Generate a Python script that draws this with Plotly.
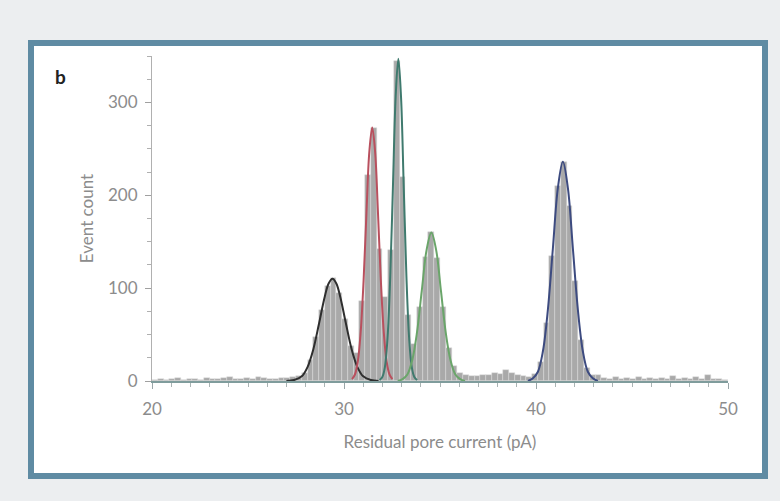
import numpy as np
import plotly.graph_objects as go

# ---------------- data ----------------
bin_start = 20.0
bin_width = 0.3
hist_counts = [
    1, 2, 1, 2, 3, 1, 2, 2, 1, 3, 2, 2, 3, 4, 2, 2, 3, 2, 4, 3, 2, 2, 3,
    3, 4, 5, 9, 23, 47, 77, 102, 111, 95, 67, 38, 30, 86, 222, 272, 142,
    90, 141, 345, 220, 71, 40, 80, 134, 160, 132, 80, 36, 16, 9, 7, 5,
    5, 6, 6, 9, 8, 12, 9, 7, 5, 4, 8, 21, 62, 135, 210, 236, 188, 108,
    44, 14, 6, 7, 3, 2, 4, 2, 3, 2, 4, 2, 3, 2, 3, 2, 5, 2, 3, 2, 4, 2,
    6, 2, 2, 1,
]
bin_centers = bin_start + bin_width / 2 + bin_width * np.arange(len(hist_counts))

fit_black_x = [27.0, 27.4, 27.8, 28.1, 28.4, 28.7, 29.0, 29.2, 29.4, 29.6, 29.8, 30.1, 30.4, 30.7, 31.0, 31.4, 31.8]
fit_black_y = [0, 1, 5, 15, 34, 62, 91, 105, 110, 105, 91, 62, 34, 15, 5, 1, 0]

fit_red_x = [30.42, 30.57, 30.72, 30.87, 31.02, 31.17, 31.32, 31.47, 31.62, 31.77, 31.92, 32.07, 32.22, 32.37, 32.52]
fit_red_y = [2, 7, 21, 53, 108, 181, 247, 273, 247, 181, 108, 53, 21, 7, 2]

fit_teal_x = [31.85, 31.99, 32.13, 32.27, 32.41, 32.55, 32.69, 32.83, 32.97, 33.11, 33.25, 33.39, 33.53, 33.67, 33.81]
fit_teal_y = [1, 4, 15, 47, 113, 210, 306, 347, 306, 210, 113, 47, 15, 4, 1]

fit_green_x = [32.8, 33.05, 33.3, 33.55, 33.8, 34.05, 34.3, 34.55, 34.8, 35.05, 35.3, 35.55, 35.8, 36.05, 36.3]
fit_green_y = [0, 2, 7, 22, 52, 97, 141, 160, 141, 97, 52, 22, 7, 2, 0]

fit_navy_x = [39.58, 39.84, 40.10, 40.36, 40.62, 40.88, 41.14, 41.40, 41.66, 41.92, 42.18, 42.44, 42.70, 42.96, 43.22]
fit_navy_y = [0, 3, 10, 32, 77, 143, 208, 236, 208, 143, 77, 32, 10, 3, 0]

x_tick_vals = [20, 30, 40, 50]
y_tick_vals = [0, 100, 200, 300]

# ---------------- figure ----------------
fig = go.Figure()

fig.add_trace(go.Bar(
    x=bin_centers, y=hist_counts, width=bin_width,
    marker=dict(color="#a9a9a9", line=dict(color="#dcdcdc", width=0.5)),
    hoverinfo="skip",
))

fits = [
    (fit_black_x, fit_black_y, "#2e2e2e"),
    (fit_red_x, fit_red_y, "#b9505e"),
    (fit_teal_x, fit_teal_y, "#3f7a6e"),
    (fit_green_x, fit_green_y, "#6aa56a"),
    (fit_navy_x, fit_navy_y, "#3d4b80"),
]
for fx, fy, col in fits:
    fig.add_trace(go.Scatter(
        x=fx, y=fy, mode="lines", line=dict(color=col, width=2, shape="spline"),
        hoverinfo="skip",
    ))

W, H = 780, 501
ml, mr, mt, mb = 152, 52, 56, 120
pw, ph = W - ml - mr, H - mt - mb

def px_x(p):
    return (p - ml) / pw

def px_y(p):
    return (H - mb - p) / ph

# outer frame
fig.add_shape(type="rect", xref="paper", yref="paper",
              x0=px_x(31), x1=px_x(765), y0=px_y(476), y1=px_y(43),
              line=dict(color="#5f8ba3", width=6), fillcolor="white", layer="below")

fig.add_annotation(xref="paper", yref="paper", x=px_x(53), y=px_y(76),
                   text="<b>b</b>", showarrow=False, xanchor="left", yanchor="middle",
                   font=dict(family="Lato", size=19, color="#222222"))

axis_font = dict(family="Lato", size=17, color="#8c8c8c")

fig.update_layout(
    width=W, height=H,
    margin=dict(l=ml, r=mr, t=mt, b=mb),
    paper_bgcolor="#eceef0",
    plot_bgcolor="rgba(0,0,0,0)",
    showlegend=False,
    bargap=0,
    xaxis=dict(
        range=[20, 50], tickvals=x_tick_vals, ticks="outside", ticklen=6, tickwidth=1,
        tickcolor="#9aa6a8", showline=True, linecolor="#7f9c9c", linewidth=1.5,
        showgrid=False, zeroline=False, tickfont=axis_font, ticklabelstandoff=6,
        minor=dict(dtick=1, ticks="outside", ticklen=4, tickcolor="#aab4b4"),
        title=dict(text="Residual pore current (pA)", font=dict(family="Lato", size=17, color="#8c8c8c"), standoff=18),
    ),
    yaxis=dict(
        range=[0, 350], tickvals=y_tick_vals, ticks="outside", ticklen=6, tickwidth=1,
        tickcolor="#a0a0a0", showline=True, linecolor="#b0b0b0", linewidth=1,
        showgrid=False, zeroline=False, tickfont=axis_font, ticklabelstandoff=4,
        minor=dict(dtick=25, ticks="outside", ticklen=4, tickcolor="#b0b0b0"),
        title=dict(text="Event count", font=dict(family="Lato", size=17, color="#8c8c8c"), standoff=10),
    ),
)

fig.write_html("out.html")
